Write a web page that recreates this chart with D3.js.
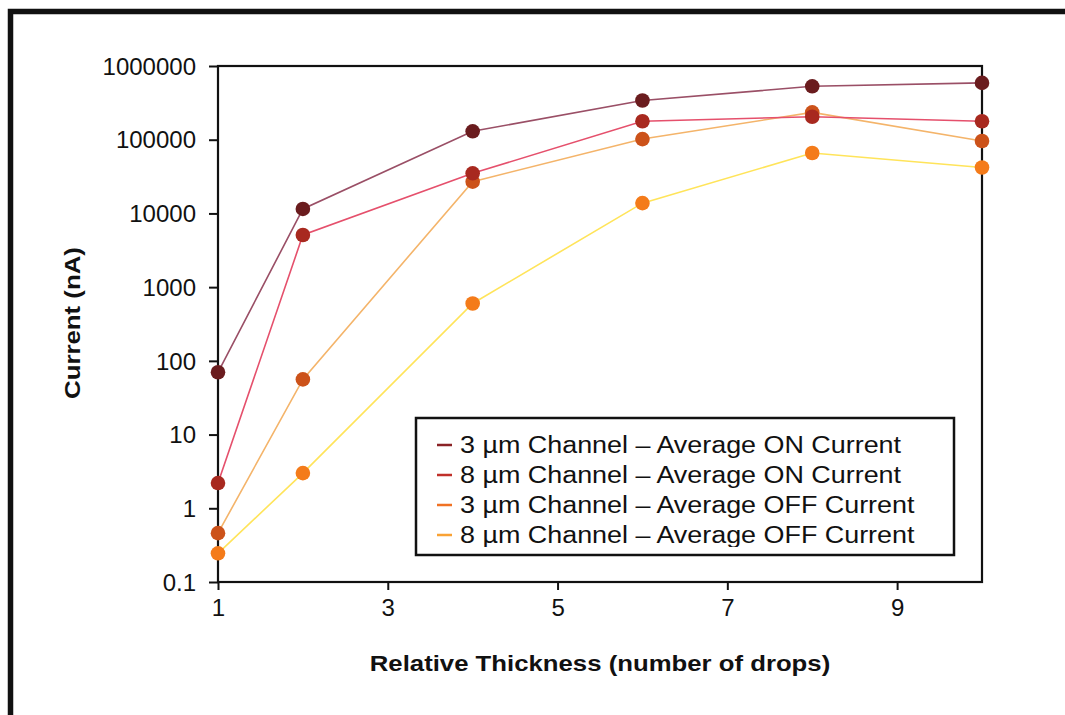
<!DOCTYPE html>
<html>
<head>
<meta charset="utf-8">
<script src="https://cdn.jsdelivr.net/npm/d3@7.9.0/dist/d3.min.js"></script>
<style>
  html, body { margin: 0; padding: 0; background: #fff; }
  svg { display: block; font-family: Arial, "Liberation Sans", Helvetica, sans-serif; }
</style>
</head>
<body>
<svg id="chart" width="1065" height="715"></svg>
<script>
// relative thickness (drops)
const drops = [1, 2, 4, 6, 8, 10];

const on3 = [70, 11500, 130000, 340000, 530000, 590000];
const on8 = [2.2, 5100, 35000, 178000, 205000, 178000];
const off3 = [0.46, 56, 27000, 102000, 235000, 96000];
const off8 = [0.245, 3.0, 600, 13800, 66000, 42000];

const seriesNames = [
  '3 µm Channel – Average ON Current',
  '8 µm Channel – Average ON Current',
  '3 µm Channel – Average OFF Current',
  '8 µm Channel – Average OFF Current'
];
const seriesValues = [on3, on8, off3, off8];
const markerColors = ['#6a1c1e', '#a8291f', '#cc521a', '#f47b1a'];
const lineColors = ['#9a4f66', '#e5506c', '#f4b46a', '#ffe45a'];
const legendColors = ['#8a2226', '#c0302a', '#f07224', '#f9a234'];

const yTicks = [0.1, 1, 10, 100, 1000, 10000, 100000, 1000000];
const xTicks = [1, 3, 5, 7, 9];

const svg = d3.select('#chart');
const plot = { left: 218, top: 66, right: 982, bottom: 582 };

const x = d3.scaleLinear().domain([1, 10]).range([plot.left, plot.right]);
const y = d3.scaleLog().domain([0.1, 1000000]).range([plot.bottom, plot.top]);

// outer frame (only top and left edges visible)
svg.append('path')
  .attr('d', `M10.5,715 V11.5 H1065`)
  .attr('fill', 'none')
  .attr('stroke', '#111')
  .attr('stroke-width', 5.5);

// plot box
svg.append('rect')
  .attr('x', plot.left)
  .attr('y', plot.top)
  .attr('width', plot.right - plot.left)
  .attr('height', plot.bottom - plot.top)
  .attr('fill', 'none')
  .attr('stroke', '#111')
  .attr('stroke-width', 2.2);

// y axis
const yAxis = d3.axisLeft(y)
  .tickValues(yTicks)
  .tickSize(9)
  .tickPadding(13)
  .tickFormat(d => d < 1 ? '0.1' : d3.format('d')(d));

const gy = svg.append('g')
  .attr('transform', `translate(${plot.left},0)`)
  .call(yAxis);
gy.select('.domain').remove();
gy.selectAll('.tick line').attr('stroke', '#111').attr('stroke-width', 2);
gy.selectAll('.tick text')
  .attr('font-size', 24)
  .attr('fill', '#111')
  .attr('dy', '0.34em');

// x axis
const xAxis = d3.axisBottom(x)
  .tickValues(xTicks)
  .tickSize(8)
  .tickPadding(9)
  .tickFormat(d3.format('d'));

const gx = svg.append('g')
  .attr('transform', `translate(0,${plot.bottom})`)
  .call(xAxis);
gx.select('.domain').remove();
gx.selectAll('.tick line').attr('stroke', '#111').attr('stroke-width', 2);
gx.selectAll('.tick text')
  .attr('font-size', 24)
  .attr('fill', '#111');

// axis titles
svg.append('text')
  .attr('transform', `translate(600,671) scale(1.17,1)`)
  .attr('text-anchor', 'middle')
  .attr('font-size', 22)
  .attr('font-weight', 'bold')
  .attr('fill', '#111')
  .text('Relative Thickness (number of drops)');

svg.append('text')
  .attr('transform', `translate(80,323) rotate(-90) scale(1.2,1)`)
  .attr('text-anchor', 'middle')
  .attr('font-size', 21.5)
  .attr('font-weight', 'bold')
  .attr('fill', '#111')
  .text('Current (nA)');

// lines and markers, first series drawn last so it sits on top
const line = d3.line()
  .x((d, i) => x(drops[i]))
  .y(d => y(d));

const order = [3, 2, 1, 0];
order.forEach(s => {
  svg.append('path')
    .datum(seriesValues[s])
    .attr('d', line)
    .attr('fill', 'none')
    .attr('stroke', lineColors[s])
    .attr('stroke-width', 1.6);
});
order.forEach(s => {
  svg.append('g')
    .selectAll('circle')
    .data(seriesValues[s])
    .join('circle')
    .attr('cx', (d, i) => x(drops[i]))
    .attr('cy', d => y(d))
    .attr('r', 7.3)
    .attr('fill', markerColors[s]);
});

// legend
const legendBox = { x: 416, y: 418, w: 538, h: 137 };
const defs = svg.append('defs');
defs.append('clipPath')
  .attr('id', 'legend-clip')
  .append('rect')
  .attr('x', legendBox.x)
  .attr('y', legendBox.y)
  .attr('width', legendBox.w)
  .attr('height', 129);

const legend = svg.append('g');
legend.append('rect')
  .attr('x', legendBox.x)
  .attr('y', legendBox.y)
  .attr('width', legendBox.w)
  .attr('height', legendBox.h)
  .attr('fill', '#fff')
  .attr('stroke', '#111')
  .attr('stroke-width', 2.5);

const rows = legend.append('g')
  .attr('clip-path', 'url(#legend-clip)')
  .selectAll('g')
  .data(seriesNames)
  .join('g')
  .attr('transform', (d, i) => `translate(437,${453 + i * 30})`);

rows.append('line')
  .attr('x1', 0)
  .attr('x2', 15)
  .attr('y1', -8)
  .attr('y2', -8)
  .attr('stroke', (d, i) => legendColors[i])
  .attr('stroke-width', 2.5);

rows.append('text')
  .attr('transform', 'translate(23,0) scale(1.17,1)')
  .attr('font-size', 23)
  .attr('fill', '#111')
  .text(d => d);
</script>
</body>
</html>
